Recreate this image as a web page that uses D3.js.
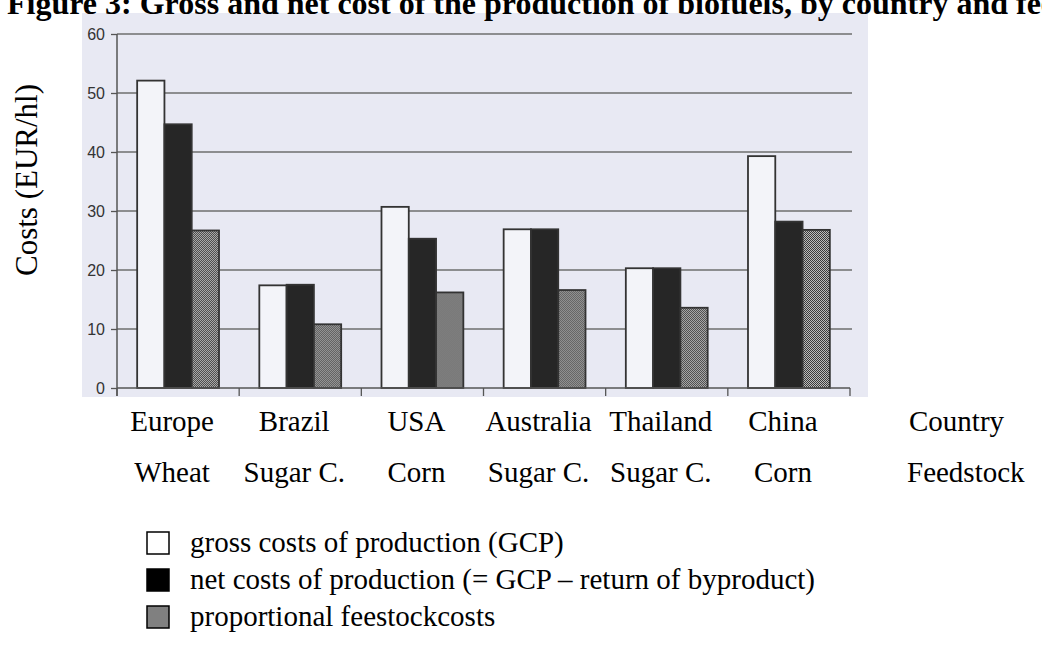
<!DOCTYPE html>
<html lang="en">
<head>
    <meta charset="UTF-8">
    <title>Gross and net cost of the production of biofuels</title>
    <script src="https://d3js.org/d3.v7.min.js"></script>
    <style>
      body { margin: 0; background: #ffffff; }
      svg { display: block; }
    </style>
</head>
<body>
    <script>

      // chart values
      const countries = ["Europe", "Brazil", "USA", "Australia", "Thailand", "China"];
      const feedstocks = ["Wheat", "Sugar C.", "Corn", "Sugar C.", "Sugar C.", "Corn"];
      const grossCosts = [52.1, 17.4, 30.7, 26.9, 20.3, 39.3];
      const netCosts = [44.7, 17.5, 25.3, 26.9, 20.3, 28.2];
      const feedstockCosts = [26.7, 10.8, 16.2, 16.6, 13.6, 26.8];
      const yTicks = [0, 10, 20, 30, 40, 50, 60];
      const seriesNames = [
        "gross costs of production (GCP)",
        "net costs of production (= GCP \u2013 return of byproduct)",
        "proportional feestockcosts"
      ];

      const series = [grossCosts, netCosts, feedstockCosts];
      const rows = countries.map((c, i) => ({
        country: c,
        feedstock: feedstocks[i],
        values: series.map((s, k) => ({key: k, value: s[i]}))
      }));

      const width = 1042, height = 647;
      const svg = d3.select("body").append("svg").attr("width", width).attr("height", height);

      // dithered grey like the scanned print
      const defs = svg.append("defs");
      const pat = defs.append("pattern").attr("id", "dots")
        .attr("width", 2).attr("height", 2).attr("patternUnits", "userSpaceOnUse");
      pat.append("rect").attr("width", 2).attr("height", 2).attr("fill", "#bdbdbd");
      pat.append("rect").attr("width", 1).attr("height", 1).attr("fill", "#3a3a3a");
      pat.append("rect").attr("x", 1).attr("y", 1).attr("width", 1).attr("height", 1).attr("fill", "#3a3a3a");

      const fills = ["#f3f4f9", "#262626", "url(#dots)"];
      const legendFills = ["#ffffff", "#000000", "#808080"];

      // scanned plot background
      svg.append("rect")
        .attr("x", 82).attr("y", 13)
        .attr("width", 786).attr("height", 384)
        .attr("fill", "#e8e9f3");

      const x0 = d3.scaleBand().domain(countries).range([117, 850])
        .paddingInner(0.33).paddingOuter(0.165);
      const x1 = d3.scaleBand().domain(d3.range(series.length)).range([0, x0.bandwidth()]);
      const y = d3.scaleLinear().domain([0, 60]).range([388, 34]);

      // gridlines + y axis
      const yAxis = d3.axisLeft(y).tickValues(yTicks).tickSize(6).tickPadding(6);
      const gy = svg.append("g").attr("transform", "translate(117,0)").call(yAxis);
      gy.select(".domain").remove();
      gy.selectAll(".tick line").attr("stroke", "#555").attr("stroke-width", 1.3);
      gy.selectAll(".tick text")
        .attr("font-family", "Liberation Sans, Arial, sans-serif")
        .attr("font-size", 16).attr("fill", "#333");

      svg.append("g").selectAll("line")
        .data(yTicks.filter(t => t > 0))
        .enter().append("line")
        .attr("x1", 117).attr("x2", 852)
        .attr("y1", d => y(d)).attr("y2", d => y(d))
        .attr("stroke", "#6e6e6e").attr("stroke-width", 1.5);

      svg.append("line")
        .attr("x1", 117).attr("x2", 117)
        .attr("y1", y(60)).attr("y2", 396)
        .attr("stroke", "#555").attr("stroke-width", 1.5);

      // bars
      const groups = svg.append("g").selectAll("g")
        .data(rows)
        .enter().append("g")
        .attr("transform", d => "translate(" + x0(d.country) + ",0)");

      groups.selectAll("rect")
        .data(d => d.values)
        .enter().append("rect")
        .attr("x", d => x1(d.key))
        .attr("y", d => y(d.value))
        .attr("width", x1.bandwidth())
        .attr("height", d => y(0) - y(d.value))
        .attr("fill", d => fills[d.key])
        .attr("stroke", "#333")
        .attr("stroke-width", 1.8);

      // x axis with category separators
      const bounds = countries.map(c => x0(c) - x0.step() * 0.165).concat([850]);
      svg.append("line")
        .attr("x1", 117).attr("x2", 850)
        .attr("y1", y(0)).attr("y2", y(0))
        .attr("stroke", "#555").attr("stroke-width", 1.5);
      svg.append("g").selectAll("line")
        .data(bounds)
        .enter().append("line")
        .attr("x1", d => d).attr("x2", d => d)
        .attr("y1", y(0)).attr("y2", 396)
        .attr("stroke", "#555").attr("stroke-width", 1.3);

      const serif = "Liberation Serif, Times New Roman, serif";

      // category labels, two rows
      const labelGroup = svg.append("g")
        .attr("font-family", serif).attr("font-size", 29).attr("fill", "#000")
        .attr("text-anchor", "middle");
      labelGroup.selectAll(".country")
        .data(rows)
        .enter().append("text")
        .attr("class", "country")
        .attr("x", d => x0(d.country) + x0.bandwidth() / 2 - 6)
        .attr("y", 431)
        .text(d => d.country);
      labelGroup.selectAll(".feed")
        .data(rows)
        .enter().append("text")
        .attr("class", "feed")
        .attr("x", d => x0(d.country) + x0.bandwidth() / 2 - 6)
        .attr("y", 482)
        .text(d => d.feedstock);

      svg.append("text").attr("x", 909).attr("y", 431)
        .attr("font-family", serif).attr("font-size", 29).text("Country");
      svg.append("text").attr("x", 907).attr("y", 482)
        .attr("font-family", serif).attr("font-size", 29).text("Feedstock");

      // y title
      svg.append("text")
        .attr("transform", "translate(37,180) rotate(-90)")
        .attr("text-anchor", "middle")
        .attr("font-family", serif).attr("font-size", 31)
        .text("Costs (EUR/hl)");

      // legend
      const legend = svg.append("g").selectAll("g")
        .data(seriesNames)
        .enter().append("g")
        .attr("transform", (d, i) => "translate(0," + (532 + i * 37) + ")");
      legend.append("rect")
        .attr("x", 147).attr("y", 0)
        .attr("width", 22).attr("height", 22)
        .attr("fill", (d, i) => legendFills[i])
        .attr("stroke", "#000").attr("stroke-width", 1.5);
      legend.append("text")
        .attr("x", 190).attr("y", 20)
        .attr("font-family", serif).attr("font-size", 29)
        .text(d => d);

      // title, top part cut off by the page edge
      svg.append("text")
        .attr("x", 7).attr("y", 14)
        .attr("font-family", serif).attr("font-size", 32).attr("font-weight", "bold")
        .text("Figure 3: Gross and net cost of the production of biofuels, by country and feedstock");

    </script>
</body>
</html>
